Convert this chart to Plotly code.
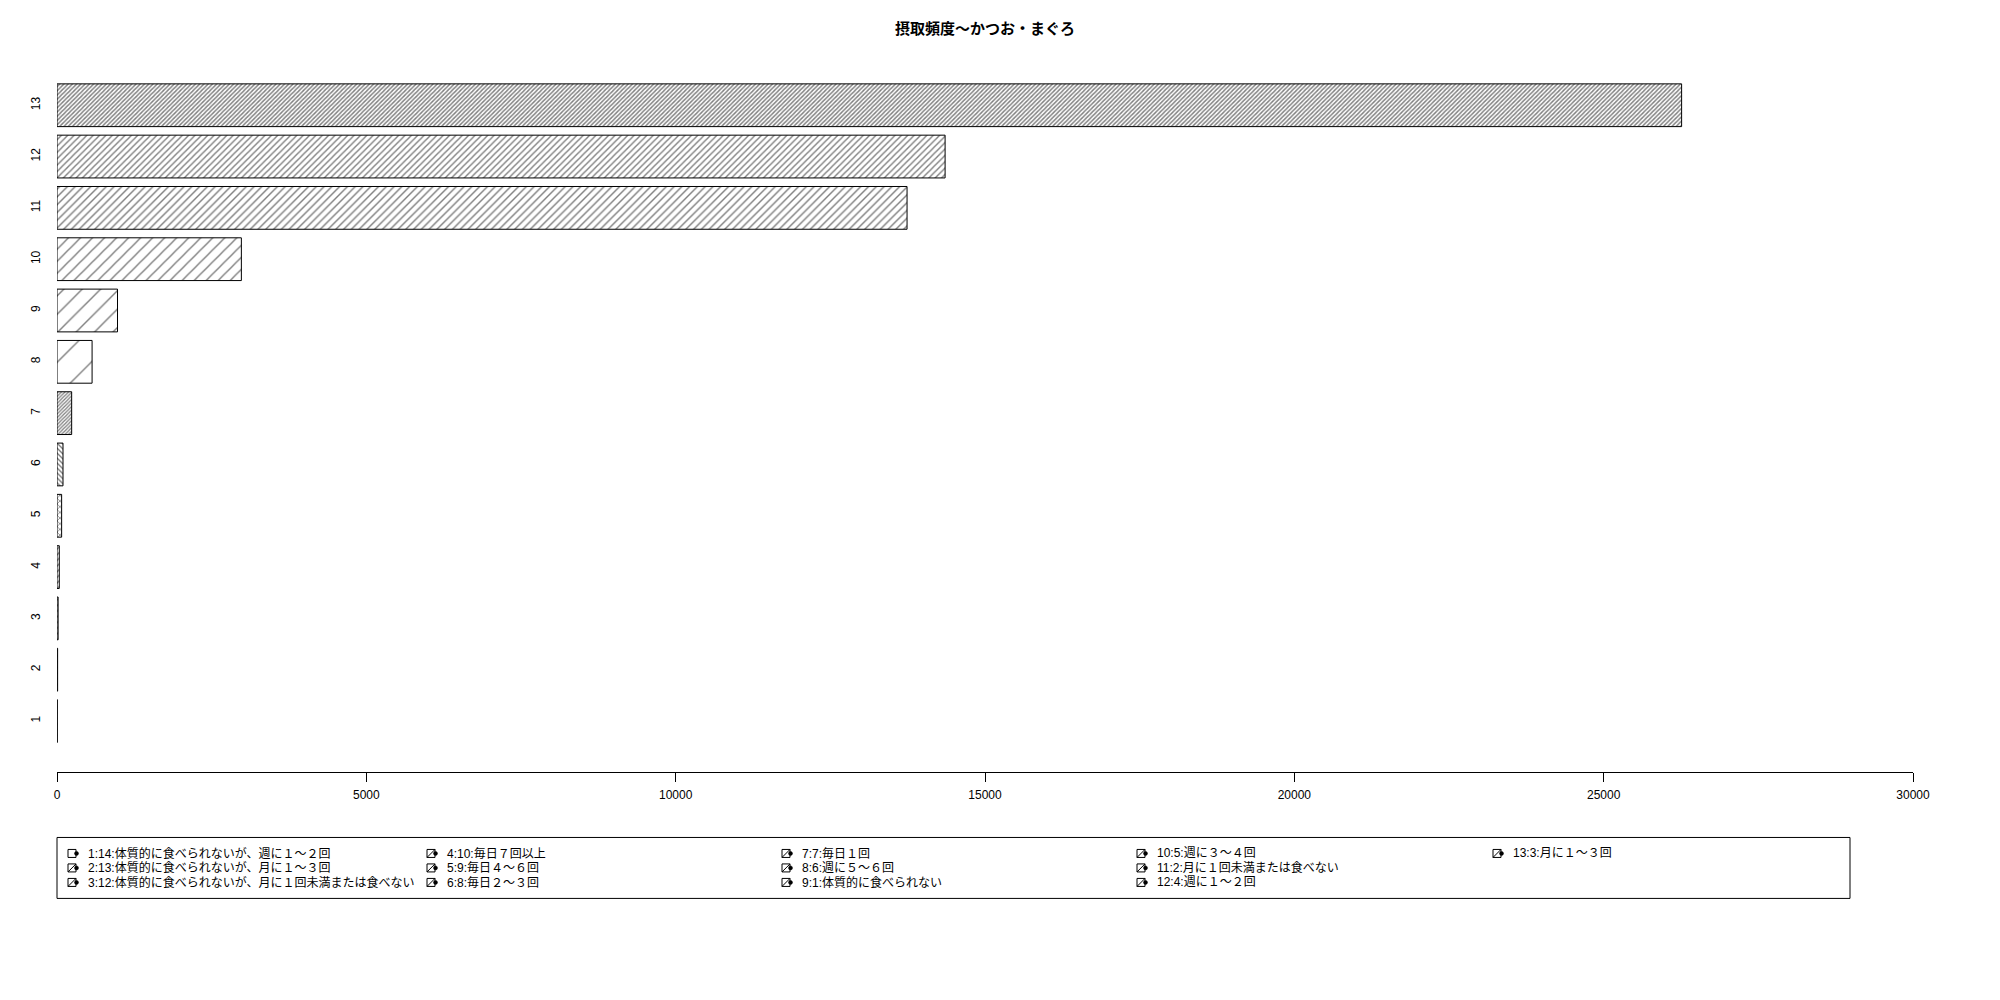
import plotly.graph_objects as go

# ---- data ----
categories = [str(i) for i in range(1, 14)]
values = [5, 10, 18, 37, 75, 97, 237, 567, 978, 2980, 13740, 14355, 26260]
legend_labels = [
    "1:14:体質的に食べられないが、週に１〜２回",
    "2:13:体質的に食べられないが、月に１〜３回",
    "3:12:体質的に食べられないが、月に１回未満または食べない",
    "4:10:毎日７回以上",
    "5:9:毎日４〜６回",
    "6:8:毎日２〜３回",
    "7:7:毎日１回",
    "8:6:週に５〜６回",
    "9:1:体質的に食べられない",
    "10:5:週に３〜４回",
    "11:2:月に１回未満または食べない",
    "12:4:週に１〜２回",
    "13:3:月に１〜３回",
]
x_ticks = [0, 5000, 10000, 15000, 20000, 25000, 30000]
title_text = "摂取頻度〜かつお・まぐろ"

# ---- styles ----
pattern_shapes = ["/", "/", "/", "/", "x", "\\", "/", "/", "/", "/", "/", "/", "/"]
pattern_sizes = [4, 4, 4, 4, 4, 3.5, 2.5, 24, 13, 8.5, 5.5, 4.5, 3]
pattern_solidity = [min(0.5, 1.4 / s) for s in pattern_sizes]
FONT = "Liberation Sans, Arial, Noto Sans CJK JP, sans-serif"

OFF = 8  # page body margin
W, H = 2000, 1000
L, R, T, B = 57 - OFF, 87 + OFF, 57 - OFF, 227.5 + OFF
PW = W - L - R
PH = H - T - B


def px_x(px):
    return (px - OFF - L) / PW


def px_y(py):
    return (H - B - (py - OFF)) / PH


fig = go.Figure()
fig.add_trace(go.Bar(
    y=categories,
    x=values,
    orientation="h",
    marker=dict(
        color="white",
        line=dict(color="black", width=1),
        pattern=dict(
            shape=pattern_shapes,
            size=pattern_sizes,
            solidity=pattern_solidity,
            fgcolor="black",
            bgcolor="white",
            fillmode="overlay",
        ),
    ),
    showlegend=False,
    hoverinfo="x+y",
))

# ---- legend (custom, column-major 3 rows x 5 cols) ----
col_text_x = [86, 445, 800, 1155, 1511]
row_y = [854, 868.5, 883]
shapes = []
annotations = []
for k, lab in enumerate(legend_labels):
    c, r = divmod(k, 3)
    tx = col_text_x[c]
    ty = row_y[r]
    annotations.append(dict(
        text=lab, xref="paper", yref="paper", x=px_x(tx), y=px_y(ty),
        xanchor="left", yanchor="middle", showarrow=False,
        font=dict(size=12, color="black", family=FONT),
    ))
    ax = px_x(tx - 14)
    ay = px_y(ty)
    shapes.append(dict(type="rect", xref="paper", yref="paper",
                       xsizemode="pixel", ysizemode="pixel",
                       xanchor=ax, yanchor=ay, x0=-4, x1=4, y0=-4, y1=4,
                       line=dict(color="black", width=1), fillcolor="white"))
    if k > 0:
        shapes.append(dict(type="line", xref="paper", yref="paper",
                           xsizemode="pixel", ysizemode="pixel",
                           xanchor=ax, yanchor=ay, x0=-4, x1=4, y0=-4, y1=4,
                           line=dict(color="black", width=1)))
    shapes.append(dict(type="circle", xref="paper", yref="paper",
                       xsizemode="pixel", ysizemode="pixel",
                       xanchor=ax, yanchor=ay, x0=2.5, x1=6.5, y0=-2, y1=2,
                       line=dict(color="black", width=0.5), fillcolor="black"))

shapes.append(dict(type="rect", xref="paper", yref="paper",
                   x0=px_x(57), x1=px_x(1850), y0=px_y(899), y1=px_y(838),
                   line=dict(color="black", width=1), fillcolor="rgba(0,0,0,0)"))

annotations.append(dict(
    text="<b>" + title_text + "</b>", xref="paper", yref="paper",
    x=0.5, y=px_y(28), xanchor="center", yanchor="middle", showarrow=False,
    font=dict(size=15, color="black", family=FONT),
))

fig.update_layout(
    width=W, height=H,
    margin=dict(l=L, r=R, t=T, b=B, pad=0),
    paper_bgcolor="white", plot_bgcolor="white",
    bargap=0.1667,
    font=dict(family=FONT, size=12, color="black"),
    shapes=shapes,
    annotations=annotations,
    xaxis=dict(
        range=[0, 30000], tickvals=x_ticks, ticktext=[str(v) for v in x_ticks],
        showgrid=False, zeroline=False, showline=True, linecolor="black", linewidth=1,
        ticks="outside", ticklen=9, tickcolor="black", tickwidth=1,
        tickfont=dict(size=12, color="black", family=FONT),
        ticklabelstandoff=3, fixedrange=True,
    ),
    yaxis=dict(
        type="category", categoryorder="array", categoryarray=categories,
        range=[-0.993, 12.94], showgrid=False, zeroline=False, showline=False,
        ticks="", tickangle=-90, tickfont=dict(size=12, color="black", family=FONT),
        ticklabelstandoff=14, fixedrange=True,
    ),
)

fig.write_html("out.html")
